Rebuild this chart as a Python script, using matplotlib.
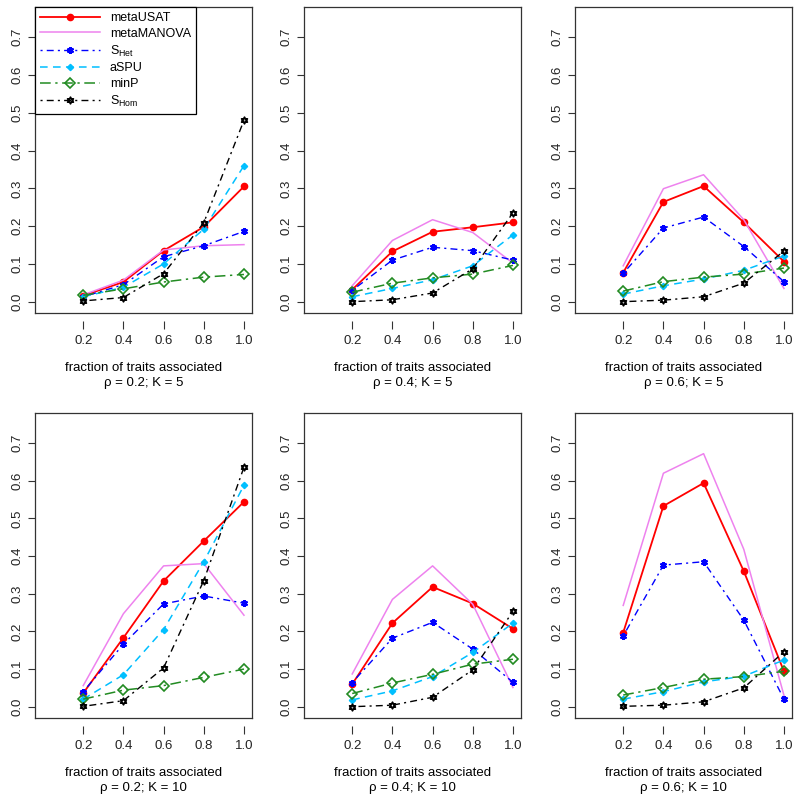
import numpy as np
import matplotlib
matplotlib.use('Agg')
import matplotlib.pyplot as plt
from matplotlib.path import Path

plt.rcParams['font.family'] = ['Liberation Sans', 'DejaVu Sans']
plt.rcParams['mathtext.fontset'] = 'custom'
plt.rcParams['mathtext.rm'] = 'Liberation Sans'
plt.rcParams['mathtext.it'] = 'Liberation Sans:italic'

fractions = [0.2, 0.4, 0.6, 0.8, 1.0]
rhos = [0.2, 0.4, 0.6, 0.2, 0.4, 0.6]
ks = [5, 5, 5, 10, 10, 10]

# power per panel (rows) and fraction of traits associated (columns)
meta_usat = [
    [0.016, 0.052, 0.135, 0.198, 0.305],
    [0.032, 0.133, 0.185, 0.197, 0.210],
    [0.077, 0.264, 0.306, 0.210, 0.106],
    [0.036, 0.183, 0.334, 0.440, 0.544],
    [0.060, 0.222, 0.318, 0.274, 0.207],
    [0.197, 0.533, 0.594, 0.360, 0.094],
]
meta_manova = [
    [0.018, 0.057, 0.137, 0.148, 0.151],
    [0.042, 0.162, 0.217, 0.183, 0.102],
    [0.095, 0.299, 0.336, 0.217, 0.035],
    [0.056, 0.247, 0.374, 0.380, 0.243],
    [0.087, 0.285, 0.374, 0.272, 0.051],
    [0.269, 0.620, 0.672, 0.418, 0.030],
]
s_het = [
    [0.013, 0.045, 0.119, 0.148, 0.186],
    [0.030, 0.110, 0.144, 0.135, 0.110],
    [0.075, 0.195, 0.224, 0.146, 0.053],
    [0.040, 0.166, 0.273, 0.294, 0.275],
    [0.064, 0.182, 0.224, 0.153, 0.065],
    [0.188, 0.376, 0.385, 0.230, 0.020],
]
aspu = [
    [0.013, 0.038, 0.100, 0.192, 0.360],
    [0.013, 0.035, 0.058, 0.095, 0.177],
    [0.020, 0.042, 0.060, 0.083, 0.121],
    [0.020, 0.085, 0.205, 0.385, 0.588],
    [0.018, 0.042, 0.080, 0.144, 0.222],
    [0.020, 0.040, 0.066, 0.081, 0.124],
]
min_p = [
    [0.017, 0.034, 0.052, 0.065, 0.072],
    [0.025, 0.049, 0.063, 0.073, 0.096],
    [0.028, 0.053, 0.065, 0.073, 0.089],
    [0.020, 0.044, 0.056, 0.078, 0.100],
    [0.035, 0.063, 0.086, 0.113, 0.126],
    [0.031, 0.051, 0.073, 0.080, 0.094],
]
s_hom = [
    [0.002, 0.011, 0.074, 0.209, 0.480],
    [0.000, 0.005, 0.023, 0.087, 0.235],
    [0.000, 0.004, 0.013, 0.049, 0.134],
    [0.001, 0.016, 0.103, 0.335, 0.636],
    [0.000, 0.004, 0.025, 0.098, 0.253],
    [0.001, 0.004, 0.013, 0.050, 0.146],
]

# star of david marker (R pch 11)
h = np.sqrt(3) / 2
star_verts = [(0, 1), (-h, -0.5), (h, -0.5), (0, 1),
              (0, -1), (-h, 0.5), (h, 0.5), (0, -1)]
star_codes = [Path.MOVETO, Path.LINETO, Path.LINETO, Path.CLOSEPOLY] * 2
star = Path(star_verts, star_codes)

methods = [
    (meta_usat, 'metaUSAT', dict(color='red', lw=1.3, marker='o', ms=4.5)),
    (meta_manova, 'metaMANOVA', dict(color='violet', lw=1.1)),
    (s_het, r'$\mathrm{S_{Het}}$', dict(color='blue', lw=1.0, marker=(6, 2, 0), ms=5,
                                       mew=1.5, dashes=(1.5, 3, 5, 3))),
    (aspu, 'aSPU', dict(color='deepskyblue', lw=1.1, marker='D', ms=3.2,
                        dashes=(5, 3.5))),
    (min_p, 'minP', dict(color='forestgreen', lw=1.1, marker='D', ms=5.5,
                         mfc='none', mew=1.2, dashes=(7, 3, 1.5, 3))),
    (s_hom, r'$\mathrm{S_{Hom}}$', dict(color='black', lw=1.0, marker=star, ms=5,
                                       mfc='none', mew=1.1, dashes=(1.5, 3, 5, 3))),
]

fig = plt.figure(figsize=(8, 8), dpi=100)
lefts = [35, 304, 575]
rows = [(7, 313), (413, 718)]

for i in range(6):
    top, bot = rows[i // 3]
    left = lefts[i % 3]
    ax = fig.add_axes([left / 800, 1 - bot / 800, 217 / 800, (bot - top) / 800])
    for vals, name, style in methods:
        ax.plot(fractions, vals[i], label=name, **style)
    ax.set_xlim(-0.04, 1.04)
    ax.set_ylim(-0.03, 0.78)
    ax.set_xticks([])
    ax.set_yticks(np.arange(0, 0.75, 0.1))
    ax.set_yticklabels(['%.1f' % v for v in np.arange(0, 0.75, 0.1)],
                       rotation=90, va='center')
    ax.tick_params(axis='y', direction='out', length=5, width=0.8, pad=3,
                   labelsize=9.5, colors='#333333', labelcolor='#222222')
    for sp in ax.spines.values():
        sp.set_linewidth(0.9)
        sp.set_color('#333333')

    sec = ax.secondary_xaxis(-8 / (bot - top))
    sec.set_xticks(fractions)
    sec.set_xticklabels(['%.1f' % f for f in fractions])
    sec.spines['bottom'].set_visible(False)
    sec.tick_params(direction='out', length=6, width=0.8, pad=4,
                    labelsize=9.5, colors='#333333', labelcolor='#222222')

    hgt = bot - top
    ax.text(0.5, -55 / hgt, 'fraction of traits associated', transform=ax.transAxes,
            ha='center', va='center', fontsize=9.5)
    ax.text(0.5, -70 / hgt, 'ρ = %.1f; K = %d' % (rhos[i], ks[i]),
            transform=ax.transAxes, ha='center', va='center', fontsize=9.5)

    if i == 0:
        leg = ax.legend(loc='upper left', bbox_to_anchor=(0, 1), borderaxespad=0,
                        fontsize=9, handlelength=4.8, handletextpad=0.8,
                        labelspacing=0.3, borderpad=0.4, fancybox=False,
                        framealpha=1, edgecolor='black')
        leg.get_frame().set_linewidth(0.9)

fig.savefig('out.png', dpi=100)
